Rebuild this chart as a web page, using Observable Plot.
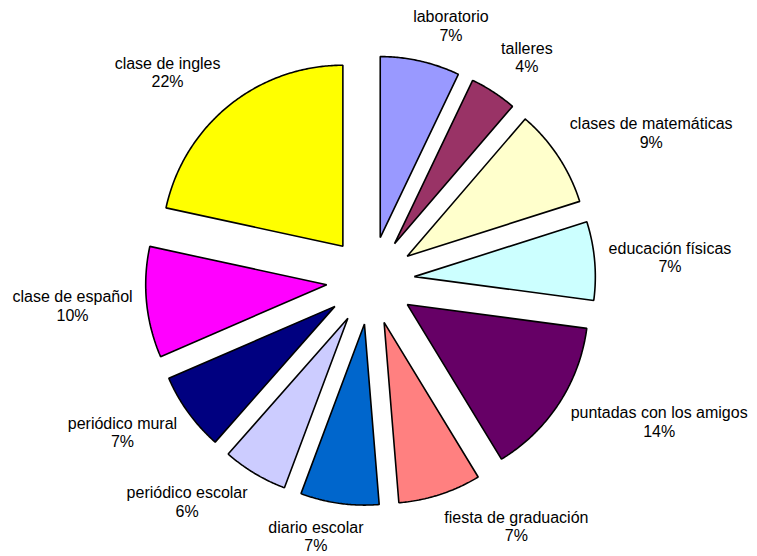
<!DOCTYPE html>
<html>
<head>
<meta charset="utf-8">
<script src="https://cdn.jsdelivr.net/npm/d3@7"></script>
<script src="https://cdn.jsdelivr.net/npm/@observablehq/plot@0.6"></script>
<style>
  html, body { margin: 0; padding: 0; background: #ffffff; }
  #chart svg { display: block; }
</style>
</head>
<body>
<div id="chart"></div>
<script>
// ---- data (shares in %) ----
const categories = [
  "laboratorio", "talleres", "clases de matemáticas", "educación físicas",
  "puntadas con los amigos", "fiesta de graduación", "diario escolar",
  "periódico escolar", "periódico mural", "clase de español", "clase de ingles"
];
const shares = [7.1, 4.2, 8.8, 7.0, 14.2, 7.4, 7.0, 5.8, 7.0, 9.9, 21.6];
const colors = [
  "#9999FF", "#993366", "#FFFFCC", "#CCFFFF", "#660066", "#FF8080",
  "#0066CC", "#CCCCFF", "#000080", "#FF00FF", "#FFFF00"
];

// ---- layout ----
const W = 757, H = 556;
const cx = 370, cy = 280;      // pie centre
const radius = 181;            // slice radius
const explode = 44;            // explosion distance
const labelRx = 239, labelRy = 258;
const fontFamily = "'Liberation Sans', Arial, Helvetica, sans-serif";
const fontSize = 16;

const total = d3.sum(shares);
const arcs = d3.pie().sort(null).value(d => d)(shares);

const slicePoints = [];
arcs.forEach((a, i) => {
  const mid = (a.startAngle + a.endAngle) / 2;
  const ox = cx + explode * Math.sin(mid), oy = cy - explode * Math.cos(mid);
  slicePoints.push({name: categories[i], x: ox, y: oy});
  const n = Math.max(2, Math.ceil((a.endAngle - a.startAngle) / (Math.PI / 360)));
  for (let k = 0; k <= n; k++) {
    const t = a.startAngle + (a.endAngle - a.startAngle) * k / n;
    slicePoints.push({name: categories[i], x: ox + radius * Math.sin(t), y: oy - radius * Math.cos(t)});
  }
});

const ctx = document.createElement("canvas").getContext("2d");
ctx.font = `${fontSize}px ${fontFamily}`;
const labels = arcs.map((a, i) => {
  const mid = (a.startAngle + a.endAngle) / 2;
  const ux = Math.sin(mid), uy = -Math.cos(mid);
  const pct = Math.round(shares[i] / total * 100) + "%";
  const w = Math.max(ctx.measureText(categories[i]).width, ctx.measureText(pct).width);
  const f = Math.min(1, 3.3 * Math.abs(ux));
  const ry = uy < 0 ? labelRy + 10 * Math.min(1, 1.6 * Math.abs(ux)) : labelRy;
  return {
    text: `${categories[i]}\n${pct}`,
    x: cx + labelRx * ux + Math.sign(ux) * f * w / 2,
    y: cy + ry * uy
  };
});

const chart = Plot.plot({
  width: W,
  height: H,
  margin: 0,
  x: {domain: [0, W], range: [0, W], axis: null},
  y: {domain: [0, H], range: [0, H], axis: null},
  color: {domain: categories, range: colors},
  style: {background: "#ffffff", fontFamily},
  marks: [
    Plot.line(slicePoints, {
      x: "x", y: "y", z: "name", fill: "name",
      stroke: "black", strokeWidth: 1.6, strokeLinejoin: "miter",
      curve: "linear-closed"
    }),
    Plot.text(labels, {
      x: "x", y: "y", text: "text",
      fontSize, fontFamily, fill: "#000000",
      textAnchor: "middle", lineAnchor: "middle", lineHeight: 1.17
    })
  ]
});
document.getElementById("chart").appendChild(chart);
</script>
</body>
</html>
